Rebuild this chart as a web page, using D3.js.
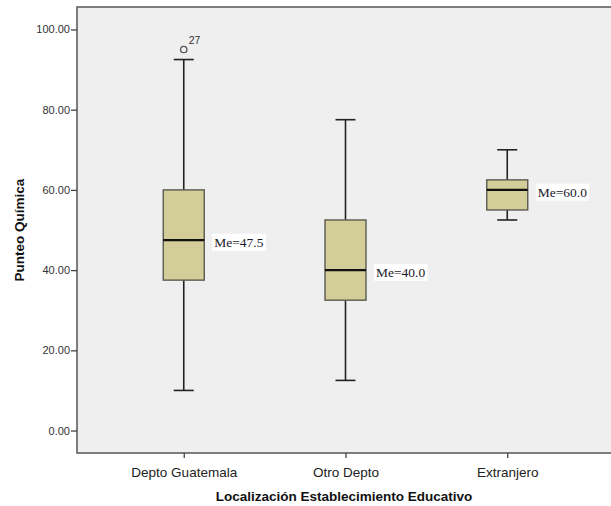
<!DOCTYPE html>
<html>
<head>
<meta charset="utf-8">
<script src="https://cdn.jsdelivr.net/npm/d3@7"></script>
<style>
  body { margin: 0; background: #fff; }
  svg { display: block; }
</style>
</head>
<body>
<svg id="chart" width="611" height="506"></svg>
<script>
// Puntajes de Química por localización del establecimiento
const categories = ["Depto Guatemala", "Otro Depto", "Extranjero"];
const whiskerLow = [10, 12.5, 52.5];
const q1 = [37.5, 32.5, 55];
const median = [47.5, 40, 60];
const q3 = [60, 52.5, 62.5];
const whiskerHigh = [92.5, 77.5, 70];
const outliers = [{ cat: "Depto Guatemala", value: 95, id: "27" }];
const yTicks = [0, 20, 40, 60, 80, 100];
const yTitle = "Punteo Química";
const xTitle = "Localización Establecimiento Educativo";

const svg = d3.select("#chart");
const plot = { left: 77, top: 7, right: 614, bottom: 453 };

const y = d3.scaleLinear().domain([-5.6, 105.6]).range([plot.bottom, plot.top]);
const x = d3.scalePoint().domain(categories).range([plot.left, plot.right]).padding(0.66);

// fondo del área de trazado
svg.append("rect")
  .attr("x", plot.left).attr("y", plot.top)
  .attr("width", plot.right - plot.left).attr("height", plot.bottom - plot.top)
  .attr("fill", "#efefef")
  .attr("stroke", "#555").attr("stroke-width", 1.5);

// eje Y
const yAxis = svg.append("g")
  .attr("transform", `translate(${plot.left},0)`)
  .call(d3.axisLeft(y).tickValues(yTicks).tickFormat(d3.format(".2f")).tickSize(6).tickSizeOuter(0));
yAxis.select(".domain").remove();
yAxis.selectAll(".tick line").attr("stroke", "#444").attr("stroke-width", 1.3);
yAxis.selectAll(".tick text")
  .attr("x", -7)
  .attr("fill", "#333")
  .style("font-family", "Arial, 'Liberation Sans', sans-serif")
  .style("font-size", "11px");

// eje X
const xAxis = svg.append("g")
  .attr("transform", `translate(0,${plot.bottom})`)
  .call(d3.axisBottom(x).tickSize(5).tickSizeOuter(0));
xAxis.select(".domain").remove();
xAxis.selectAll(".tick line").attr("stroke", "#444").attr("stroke-width", 1.3);
xAxis.selectAll(".tick text")
  .attr("y", 14)
  .attr("fill", "#222")
  .style("font-family", "Arial, 'Liberation Sans', sans-serif")
  .style("font-size", "13.5px");

// títulos de ejes
svg.append("text")
  .attr("transform", `translate(24,${(plot.top + plot.bottom) / 2}) rotate(-90)`)
  .attr("text-anchor", "middle")
  .style("font-family", "Arial, 'Liberation Sans', sans-serif")
  .style("font-weight", "bold")
  .style("font-size", "13.5px")
  .attr("fill", "#111")
  .text(yTitle);

svg.append("text")
  .attr("x", (plot.left + 611) / 2)
  .attr("y", 501)
  .attr("text-anchor", "middle")
  .style("font-family", "Arial, 'Liberation Sans', sans-serif")
  .style("font-weight", "bold")
  .style("font-size", "13.5px")
  .attr("fill", "#111")
  .text(xTitle);

// cajas
const boxW = 41, capW = 20;
const data = categories.map((c, i) => ({
  cat: c, lo: whiskerLow[i], q1: q1[i], med: median[i], q3: q3[i], hi: whiskerHigh[i]
}));

const g = svg.append("g");
data.forEach(d => {
  const cx = x(d.cat);
  // bigotes
  g.append("line").attr("x1", cx).attr("x2", cx).attr("y1", y(d.hi)).attr("y2", y(d.q3))
    .attr("stroke", "#222").attr("stroke-width", 1.6);
  g.append("line").attr("x1", cx).attr("x2", cx).attr("y1", y(d.q1)).attr("y2", y(d.lo))
    .attr("stroke", "#222").attr("stroke-width", 1.6);
  g.append("line").attr("x1", cx - capW / 2).attr("x2", cx + capW / 2).attr("y1", y(d.hi)).attr("y2", y(d.hi))
    .attr("stroke", "#222").attr("stroke-width", 1.6);
  g.append("line").attr("x1", cx - capW / 2).attr("x2", cx + capW / 2).attr("y1", y(d.lo)).attr("y2", y(d.lo))
    .attr("stroke", "#222").attr("stroke-width", 1.6);
  // caja
  g.append("rect")
    .attr("x", cx - boxW / 2).attr("y", y(d.q3))
    .attr("width", boxW).attr("height", y(d.q1) - y(d.q3))
    .attr("fill", "#d3ce99").attr("stroke", "#5a5a50").attr("stroke-width", 1.4);
  // mediana
  g.append("line").attr("x1", cx - boxW / 2).attr("x2", cx + boxW / 2)
    .attr("y1", y(d.med)).attr("y2", y(d.med))
    .attr("stroke", "#111").attr("stroke-width", 2.2);
  // etiqueta de mediana
  const lab = g.append("g").attr("transform", `translate(${cx + boxW / 2 + 7},${y(d.med) + 2})`);
  const txt = lab.append("text")
    .attr("x", 3).attr("y", 0).attr("dy", "0.35em")
    .style("font-family", "'Liberation Serif', 'Times New Roman', serif")
    .style("font-size", "13.5px")
    .attr("fill", "#1a1a2a")
    .text(`Me=${d.med.toFixed(1)}`);
  const bb = txt.node().getBBox();
  lab.insert("rect", "text")
    .attr("x", bb.x - 2).attr("y", bb.y - 1)
    .attr("width", bb.width + 4).attr("height", bb.height + 2)
    .attr("fill", "#ffffff");
});

// valores atípicos
outliers.forEach(o => {
  const cx = x(o.cat);
  g.append("circle").attr("cx", cx).attr("cy", y(o.value)).attr("r", 3.2)
    .attr("fill", "none").attr("stroke", "#555").attr("stroke-width", 1.3);
  g.append("text").attr("x", cx + 5).attr("y", y(o.value) - 6)
    .style("font-family", "Arial, 'Liberation Sans', sans-serif")
    .style("font-size", "10.5px")
    .attr("fill", "#333")
    .text(o.id);
});
</script>
</body>
</html>
